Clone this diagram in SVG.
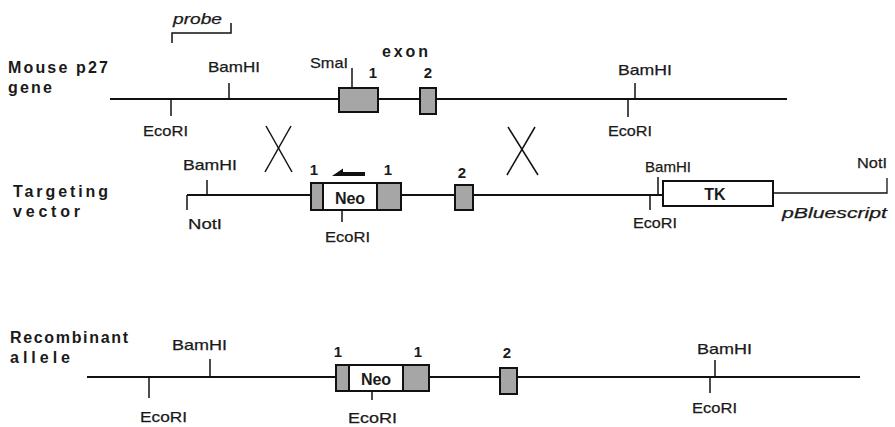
<svg xmlns="http://www.w3.org/2000/svg" width="895" height="427" viewBox="0 0 895 427">
<style>
text{font-family:"Liberation Sans",Arial,sans-serif;fill:#1a1a1a}
.lab{font-size:15px;stroke:#1a1a1a;stroke-width:0.25}
.b{font-weight:bold;font-size:16px}
.num{font-weight:bold;font-size:15px;text-anchor:middle}
.it{font-style:italic;font-size:15px;stroke:#1a1a1a;stroke-width:0.25}
.ln{stroke:#111;stroke-width:2;fill:none}
.tk{stroke:#111;stroke-width:1.5;fill:none}
.thin{stroke:#111;stroke-width:1.3;fill:none}
.ex{fill:#a6a6a6;stroke:#111;stroke-width:2}
.wh{fill:#fff;stroke:#111;stroke-width:2}
.mid{text-anchor:middle}
</style>
<rect width="895" height="427" fill="#fff"/>

<g id="connectors">
  <line class="ln" x1="110" y1="99" x2="787" y2="99"/>
  <line class="ln" x1="187" y1="195" x2="663" y2="195"/>
  <polyline class="thin" points="773,193 887,193 887,178"/>
  <line class="ln" x1="87" y1="377" x2="860" y2="377"/>
  <line class="tk" x1="266" y1="126" x2="292" y2="172"/>
  <line class="tk" x1="291" y1="126" x2="265" y2="172"/>
  <line class="tk" x1="508" y1="127" x2="538" y2="175"/>
  <line class="tk" x1="535" y1="127" x2="507" y2="175"/>
</g>

<g id="probe">
  <polyline class="tk" points="172,43 172,33 231,33 231,23"/>
  <text class="it" x="173" y="24" textLength="49" lengthAdjust="spacingAndGlyphs">probe</text>
</g>

<g id="row1-labels">
  <text class="b" x="8" y="73" textLength="100" lengthAdjust="spacing">Mouse  p27</text>
  <text class="b" x="8" y="93" textLength="44" lengthAdjust="spacing">gene</text>
</g>

<g id="row1-sites">
  <line class="tk" x1="171" y1="99" x2="171" y2="116"/>
  <text class="lab" x="143" y="136" textLength="45" lengthAdjust="spacingAndGlyphs">EcoRI</text>
  <line class="tk" x1="229" y1="83" x2="229" y2="99"/>
  <text class="lab" x="208" y="72" textLength="52" lengthAdjust="spacingAndGlyphs">BamHI</text>
  <line class="tk" x1="352" y1="68" x2="352" y2="88"/>
  <text class="lab" x="310" y="68" textLength="38" lengthAdjust="spacingAndGlyphs">SmaI</text>
  <line class="tk" x1="635" y1="83" x2="635" y2="99"/>
  <text class="lab" x="618" y="75" textLength="54" lengthAdjust="spacingAndGlyphs">BamHI</text>
  <line class="tk" x1="628" y1="99" x2="628" y2="117"/>
  <text class="lab" x="608" y="136" textLength="44" lengthAdjust="spacingAndGlyphs">EcoRI</text>
</g>

<g id="row1-exons">
  <text class="b" x="382" y="57" textLength="46" lengthAdjust="spacing">exon</text>
  <rect class="ex" x="339" y="88" width="39" height="24"/>
  <text class="num" x="373" y="78">1</text>
  <rect class="ex" x="420" y="88" width="16" height="26"/>
  <text class="num" x="428" y="78">2</text>
</g>

<g id="row2-labels">
  <text class="b" x="13" y="197" textLength="95" lengthAdjust="spacing">Targeting</text>
  <text class="b" x="13" y="217" textLength="67" lengthAdjust="spacing">vector</text>
</g>

<g id="row2-sites">
  <line class="tk" x1="187" y1="195" x2="187" y2="210"/>
  <text class="lab" x="188" y="229" textLength="34" lengthAdjust="spacingAndGlyphs">NotI</text>
  <line class="tk" x1="207" y1="180" x2="207" y2="195"/>
  <text class="lab" x="183" y="170" textLength="54" lengthAdjust="spacingAndGlyphs">BamHI</text>
  <line class="tk" x1="342" y1="210" x2="342" y2="222"/>
  <text class="lab" x="325" y="242" textLength="45" lengthAdjust="spacingAndGlyphs">EcoRI</text>
  <line class="tk" x1="658" y1="177" x2="658" y2="195"/>
  <text class="lab" x="645" y="172" textLength="46" lengthAdjust="spacingAndGlyphs">BamHI</text>
  <line class="tk" x1="650" y1="195" x2="650" y2="210"/>
  <text class="lab" x="633" y="228" textLength="44" lengthAdjust="spacingAndGlyphs">EcoRI</text>
  <text class="lab" x="857" y="168" textLength="30" lengthAdjust="spacingAndGlyphs">NotI</text>
  <text class="it" x="782" y="218" textLength="105" lengthAdjust="spacingAndGlyphs">pBluescript</text>
</g>

<g id="row2-neo">
  <rect class="ex" x="311" y="183" width="90" height="27"/>
  <rect class="wh" x="323" y="183" width="54" height="27"/>
  <text class="b mid" x="350" y="204">Neo</text>
  <text class="num" x="314" y="175">1</text>
  <text class="num" x="388" y="175">1</text>
  <polygon points="332,176 343,168.5 343,172 365,172 365,176" fill="#111"/>
</g>

<g id="row2-exon2">
  <rect class="ex" x="455" y="185" width="18" height="25"/>
  <text class="num" x="462" y="178">2</text>
</g>

<g id="row2-tk">
  <rect class="wh" x="663" y="181" width="110" height="25"/>
  <text class="b mid" x="715" y="200">TK</text>
</g>

<g id="row3-labels">
  <text class="b" x="10" y="343" textLength="118" lengthAdjust="spacing">Recombinant</text>
  <text class="b" x="10" y="363" textLength="60" lengthAdjust="spacing">allele</text>
</g>

<g id="row3-sites">
  <line class="tk" x1="149" y1="377" x2="149" y2="398"/>
  <text class="lab" x="140" y="422" textLength="47" lengthAdjust="spacingAndGlyphs">EcoRI</text>
  <line class="tk" x1="210" y1="359" x2="210" y2="377"/>
  <text class="lab" x="172" y="350" textLength="55" lengthAdjust="spacingAndGlyphs">BamHI</text>
  <line class="tk" x1="372" y1="391" x2="372" y2="400"/>
  <text class="lab" x="348" y="423" textLength="49" lengthAdjust="spacingAndGlyphs">EcoRI</text>
  <line class="tk" x1="715" y1="360" x2="715" y2="377"/>
  <text class="lab" x="697" y="354" textLength="55" lengthAdjust="spacingAndGlyphs">BamHI</text>
  <line class="tk" x1="710" y1="377" x2="710" y2="393"/>
  <text class="lab" x="692" y="413" textLength="45" lengthAdjust="spacingAndGlyphs">EcoRI</text>
</g>

<g id="row3-neo">
  <rect class="ex" x="336" y="365" width="93" height="26"/>
  <rect class="wh" x="349" y="365" width="54" height="26"/>
  <text class="b mid" x="376" y="385">Neo</text>
  <text class="num" x="338" y="357">1</text>
  <text class="num" x="418" y="357">1</text>
</g>

<g id="row3-exon2">
  <rect class="ex" x="500" y="368" width="17" height="26"/>
  <text class="num" x="507" y="358">2</text>
</g>
</svg>
